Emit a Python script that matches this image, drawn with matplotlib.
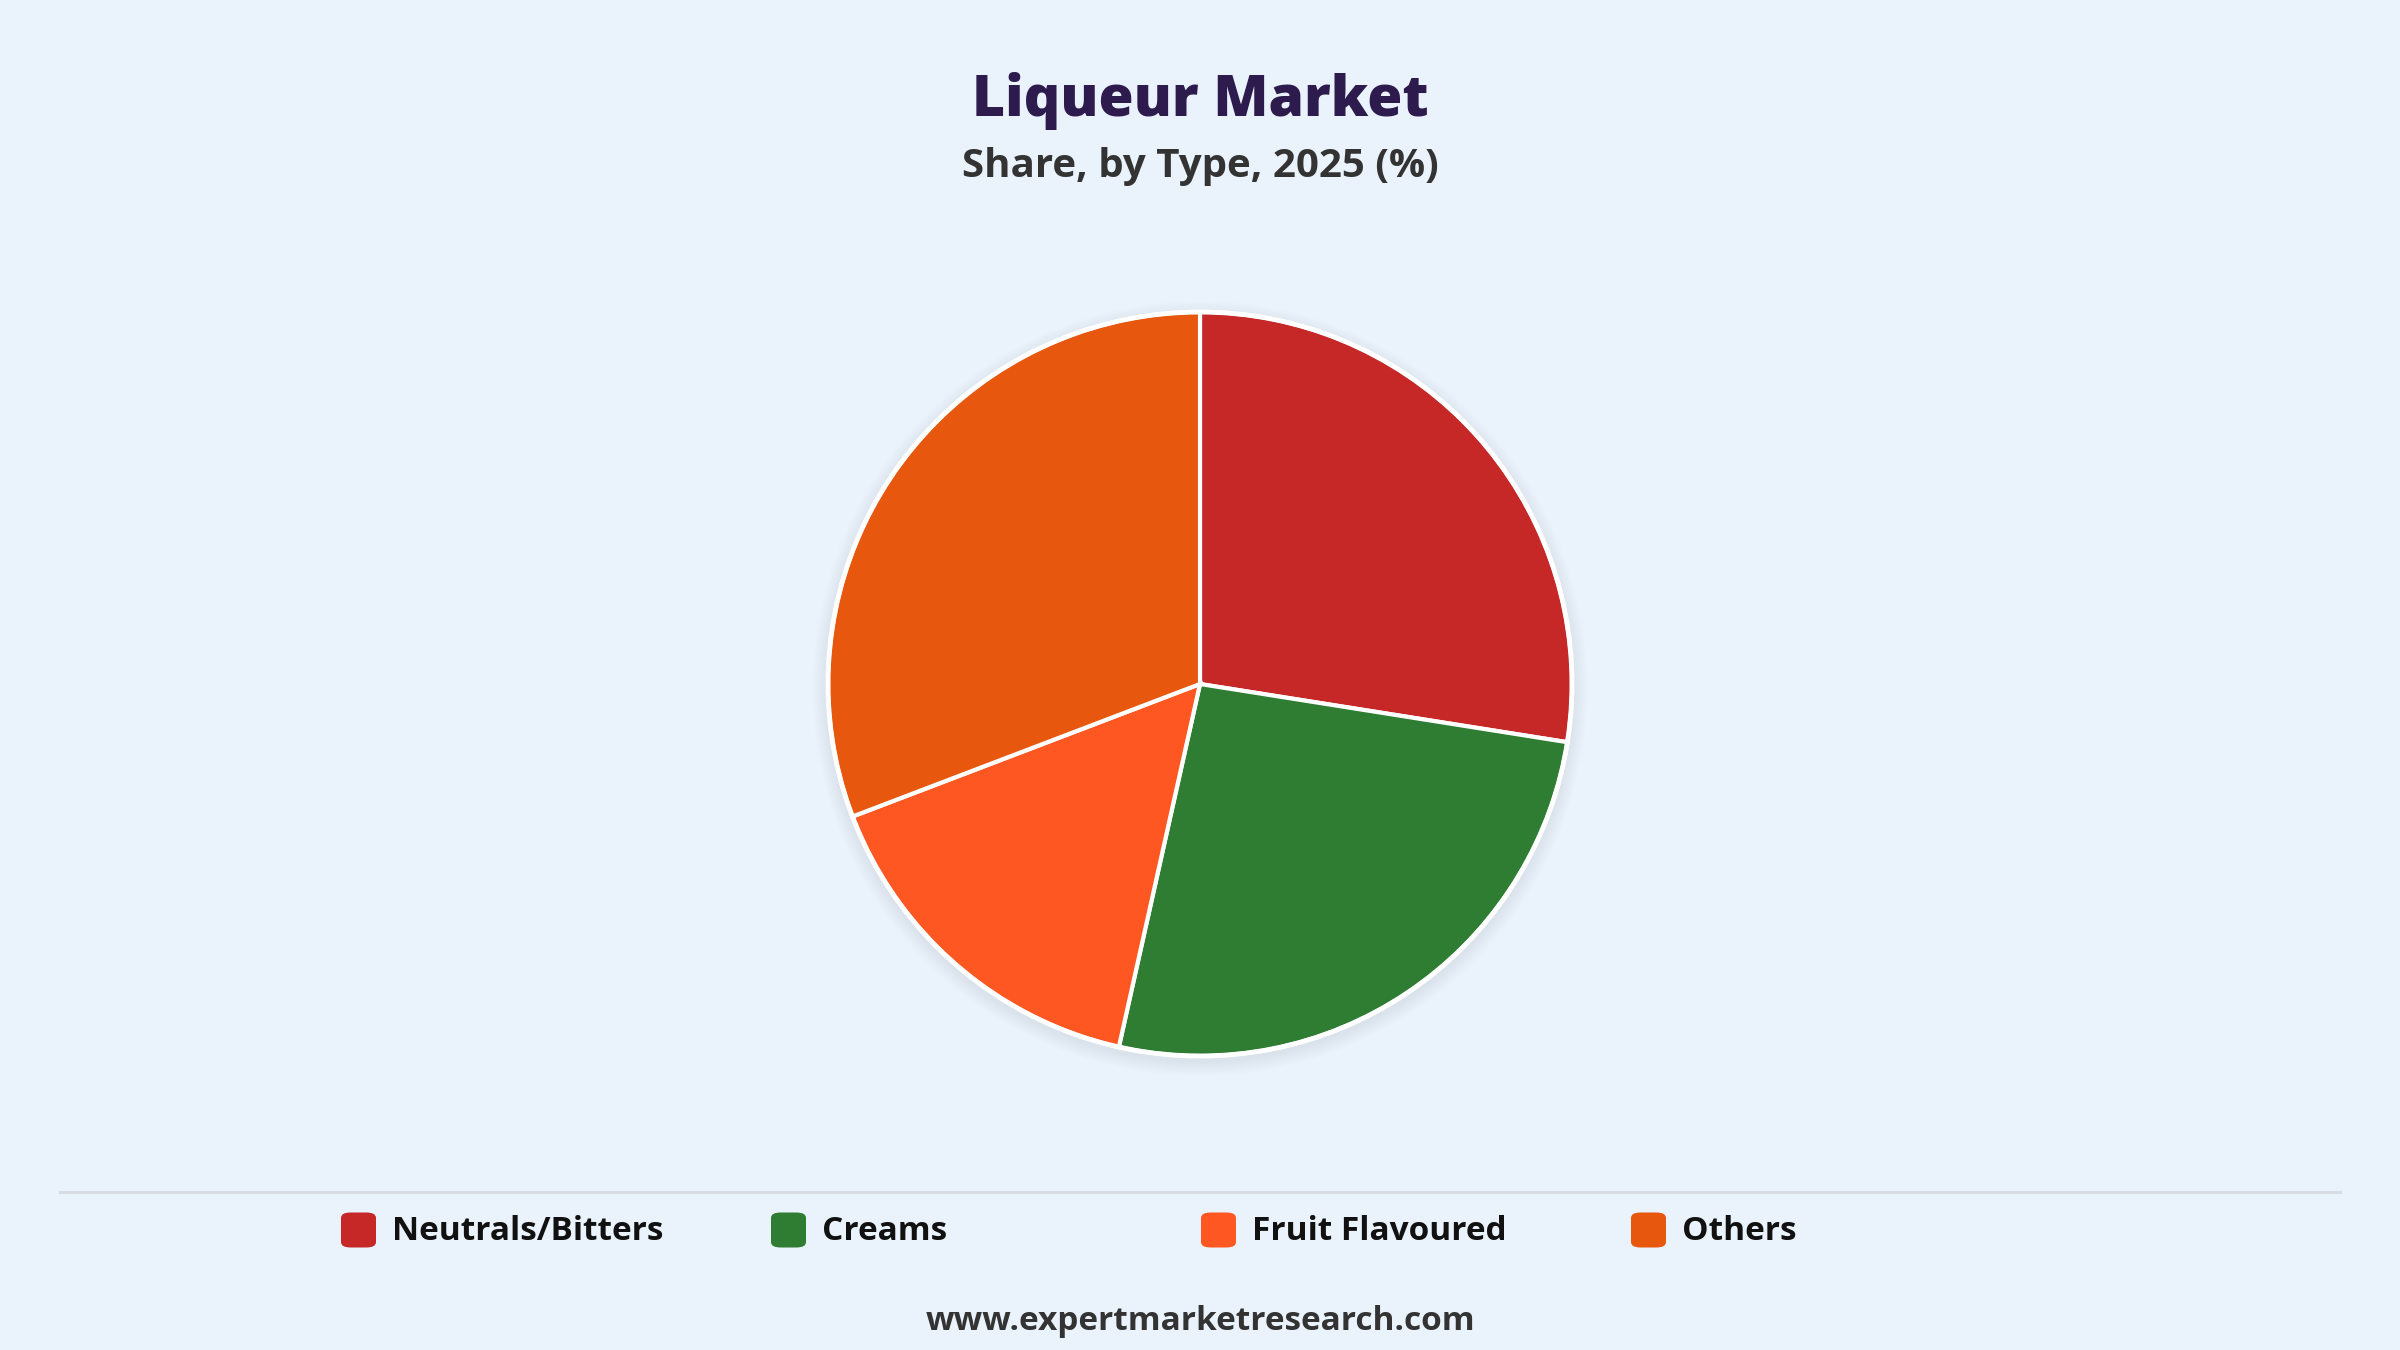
import matplotlib
matplotlib.use("Agg")
import matplotlib.pyplot as plt
from matplotlib.patches import FancyBboxPatch, Circle
from matplotlib.lines import Line2D

categories = ["Neutrals/Bitters", "Creams", "Fruit Flavoured", "Others"]
shares = [27.5, 26.0, 15.7, 30.8]
colors = ["#C62828", "#2E7D32", "#FF5722", "#E8570E"]
title = "Liqueur Market"
subtitle = "Share, by Type, 2025 (%)"
source = "www.expertmarketresearch.com"

W, H = 2400, 1350
BG = "#EAF2FC"
plt.rcParams['font.family'] = ['Open Sans', 'DejaVu Sans']

fig = plt.figure(figsize=(W / 100, H / 100), dpi=100, facecolor=BG)

def fx(px):
    return px / W

def fy(py):
    return 1 - py / H

# Titles
fig.text(0.5, fy(101), title, ha="center", va="center", fontsize=41,
         fontweight="heavy", color="#2D1B4E")
fig.text(0.5, fy(166), subtitle, ha="center", va="center", fontsize=29,
         fontweight="bold", color="#333333")

# Pie
cx, cy, r = 1200, 684, 372
side = 2.2 * r
ax = fig.add_axes([fx(cx - side / 2), fy(cy + side / 2), side / W, side / H])
ax.set_facecolor(BG)

wedges, _ = ax.pie(shares, colors=colors, startangle=90, counterclock=False,
                   radius=1.0,
                   wedgeprops=dict(edgecolor="white", linewidth=3.0))
for w in wedges:
    w.set_zorder(2)
ax.add_patch(Circle((0, 0), 1.0, fill=False, edgecolor="white", lw=3.5, zorder=3))
# soft shadow
for i in range(8):
    ax.add_patch(Circle((0.0, -0.012), 1.0 + 0.005 * (8 - i), color="#8A8F99",
                        alpha=0.018, lw=0, zorder=0))
ax.set_xlim(-1.1, 1.1)
ax.set_ylim(-1.1, 1.1)
ax.set_aspect("equal")
ax.axis("off")

# Separator
fig.add_artist(Line2D([fx(60), fx(2340)], [fy(1192), fy(1192)], color="#D8DCE2",
                      lw=2.2))

# Legend
lx0, ldx, ly = 341, 430, 1230
msz = 35
for i, (cat, col) in enumerate(zip(categories, colors)):
    x = lx0 + i * ldx
    fig.add_artist(FancyBboxPatch((fx(x), fy(ly + msz / 2)), msz / W, msz / H,
                                  boxstyle="round,pad=0,rounding_size=0.004",
                                  facecolor=col, edgecolor="none",
                                  transform=fig.transFigure))
    fig.text(fx(x + msz + 16), fy(ly + 1), cat, ha="left", va="center",
             fontsize=24, fontweight="bold", color="#111111")

fig.text(0.5, fy(1321), source, ha="center", va="center", fontsize=24,
         fontweight="bold", color="#333333")

fig.savefig("out.png", dpi=100, facecolor=BG)
